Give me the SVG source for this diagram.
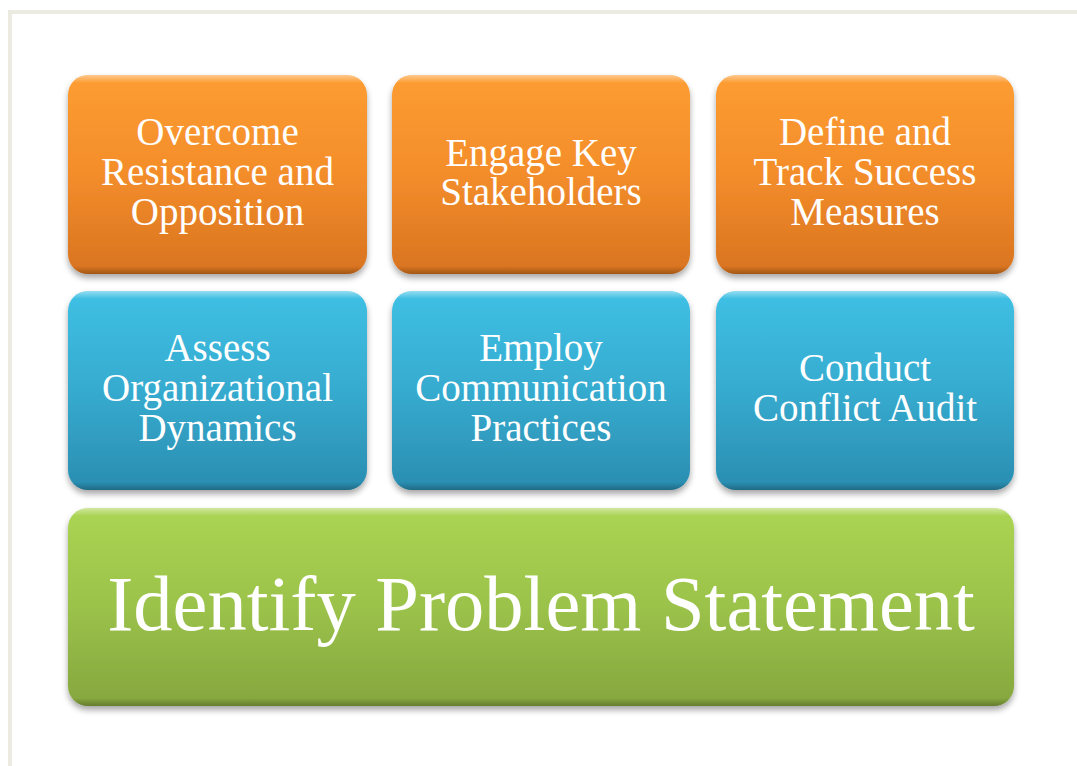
<svg xmlns="http://www.w3.org/2000/svg" width="1077" height="766" viewBox="0 0 1077 766">
<defs>
<linearGradient id="gOrange" x1="0" y1="0" x2="0" y2="1">
<stop offset="0" stop-color="#fd9d31"/>
<stop offset="0.5" stop-color="#f38d2b"/>
<stop offset="1" stop-color="#d8731f"/>
</linearGradient>
<linearGradient id="gBlue" x1="0" y1="0" x2="0" y2="1">
<stop offset="0" stop-color="#3ec0e4"/>
<stop offset="0.5" stop-color="#36abcf"/>
<stop offset="1" stop-color="#2a8db0"/>
</linearGradient>
<linearGradient id="gGreen" x1="0" y1="0" x2="0" y2="1">
<stop offset="0" stop-color="#abd553"/>
<stop offset="0.5" stop-color="#9bc24a"/>
<stop offset="1" stop-color="#85a63e"/>
</linearGradient>
<linearGradient id="gHi" x1="0" y1="0" x2="0" y2="1">
<stop offset="0" stop-color="#ffffff" stop-opacity="0.45"/>
<stop offset="0.04" stop-color="#ffffff" stop-opacity="0"/>
<stop offset="0.96" stop-color="#000000" stop-opacity="0"/>
<stop offset="1" stop-color="#000000" stop-opacity="0.25"/>
</linearGradient>
<filter id="shadow" x="-5%" y="-5%" width="110%" height="115%">
<feGaussianBlur in="SourceAlpha" stdDeviation="3"/>
<feOffset dx="0" dy="4" result="b"/>
<feComponentTransfer><feFuncA type="linear" slope="0.35"/></feComponentTransfer>
<feMerge><feMergeNode/><feMergeNode in="SourceGraphic"/></feMerge>
</filter>
</defs>
<style>
.t{font-family:"Liberation Serif","Times New Roman",serif;fill:#ffffff;text-anchor:middle;font-size:39px}
.big{font-size:78.5px}
.hi{fill:url(#gHi)}
</style>
<rect x="0" y="0" width="1077" height="766" fill="#ffffff"/>
<rect x="8" y="10" width="1069" height="4" fill="#ecebe2"/>
<rect x="8" y="10" width="4" height="756" fill="#ecebe2"/>

<g id="connectors"></g>

<g id="n1">
<rect x="68" y="75" width="299" height="199" rx="20" fill="url(#gOrange)" filter="url(#shadow)"/>
<rect x="68" y="75" width="299" height="199" rx="20" class="hi"/>
<text class="t" x="217.5" y="145">Overcome</text>
<text class="t" x="217.5" y="185">Resistance and</text>
<text class="t" x="217.5" y="225">Opposition</text>
</g>
<g id="n2">
<rect x="392" y="75" width="298" height="199" rx="20" fill="url(#gOrange)" filter="url(#shadow)"/>
<rect x="392" y="75" width="298" height="199" rx="20" class="hi"/>
<text class="t" x="541" y="166">Engage Key</text>
<text class="t" x="541" y="205">Stakeholders</text>
</g>
<g id="n3">
<rect x="716" y="75" width="298" height="199" rx="20" fill="url(#gOrange)" filter="url(#shadow)"/>
<rect x="716" y="75" width="298" height="199" rx="20" class="hi"/>
<text class="t" x="865" y="145">Define and</text>
<text class="t" x="865" y="185">Track Success</text>
<text class="t" x="865" y="225">Measures</text>
</g>
<g id="n4">
<rect x="68" y="291" width="299" height="199" rx="20" fill="url(#gBlue)" filter="url(#shadow)"/>
<rect x="68" y="291" width="299" height="199" rx="20" class="hi"/>
<text class="t" x="217.5" y="361">Assess</text>
<text class="t" x="217.5" y="401">Organizational</text>
<text class="t" x="217.5" y="441">Dynamics</text>
</g>
<g id="n5">
<rect x="392" y="291" width="298" height="199" rx="20" fill="url(#gBlue)" filter="url(#shadow)"/>
<rect x="392" y="291" width="298" height="199" rx="20" class="hi"/>
<text class="t" x="541" y="361">Employ</text>
<text class="t" x="541" y="401">Communication</text>
<text class="t" x="541" y="441">Practices</text>
</g>
<g id="n6">
<rect x="716" y="291" width="298" height="199" rx="20" fill="url(#gBlue)" filter="url(#shadow)"/>
<rect x="716" y="291" width="298" height="199" rx="20" class="hi"/>
<text class="t" x="865" y="381">Conduct</text>
<text class="t" x="865" y="421">Conflict Audit</text>
</g>
<g id="n7">
<rect x="68" y="508" width="946" height="198" rx="20" fill="url(#gGreen)" filter="url(#shadow)"/>
<rect x="68" y="508" width="946" height="198" rx="20" class="hi"/>
<text class="t big" x="541" y="630">Identify Problem Statement</text>
</g>
</svg>
